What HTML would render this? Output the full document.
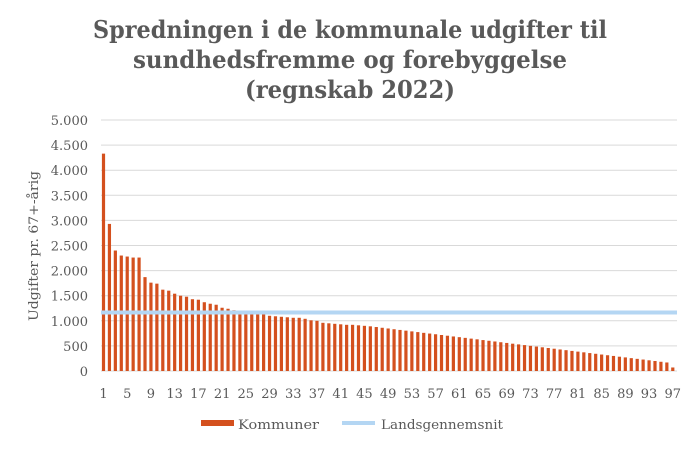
<!DOCTYPE html>
<html><head><meta charset="utf-8"><style>
body{margin:0;background:#fff;width:700px;height:450px;overflow:hidden}
</style></head><body>
<svg id="s" width="700" height="450" xmlns="http://www.w3.org/2000/svg" font-family="DejaVu Serif, Liberation Serif, serif">
<text x="350" y="38" text-anchor="middle" font-size="24" font-weight="bold" fill="#595959" textLength="514" lengthAdjust="spacingAndGlyphs">Spredningen i de kommunale udgifter til</text>
<text x="350" y="68" text-anchor="middle" font-size="24" font-weight="bold" fill="#595959" textLength="434" lengthAdjust="spacingAndGlyphs">sundhedsfremme og forebyggelse</text>
<text x="350" y="98" text-anchor="middle" font-size="24" font-weight="bold" fill="#595959" textLength="210" lengthAdjust="spacingAndGlyphs">(regnskab 2022)</text>
<text transform="translate(38,246) rotate(-90)" text-anchor="middle" font-size="13" fill="#595959" textLength="150" lengthAdjust="spacingAndGlyphs">Udgifter pr. 67+-årig</text>
<g id="g"></g>
<rect x="201" y="420" width="33" height="6" fill="#d4501e"/>
<text x="238" y="429" font-size="13" fill="#595959" textLength="81" lengthAdjust="spacingAndGlyphs">Kommuner</text>
<rect x="342" y="421" width="33" height="4" fill="#b4d6f3"/>
<text x="381" y="429" font-size="13" fill="#595959" textLength="122" lengthAdjust="spacingAndGlyphs">Landsgennemsnit</text>
</svg>
<script>
var v=[4330,2930,2400,2300,2280,2260,2260,1870,1760,1740,1620,1600,1540,1500,1480,1430,1420,1370,1340,1320,1260,1240,1210,1180,
1160,1150,1140,1130,1100,1090,1080,1070,1060,1060,1040,1010,1000,960,950,940,930,920,920,910,900];
for(var i=0;i<51;i++){v.push(Math.round(890-i*14.4));}
v.push(70);
var g=document.getElementById('g'),h='';
var y0=371,sc=50.2/1000;
for(var k=0;k<=10;k++){var y=y0-k*500*sc;
h+='<line x1="101" x2="677" y1="'+y+'" y2="'+y+'" stroke="#d9d9d9" stroke-width="1"/>';
var t=(k*500).toString();if(t.length>3)t=t.slice(0,-3)+'.'+t.slice(-3);
h+='<text x="88" y="'+(y+5)+'" text-anchor="end" font-size="13" fill="#595959">'+t+'</text>';}
var p=5.93;
for(var i=0;i<97;i++){var x=103.5+i*p;var bh=v[i]*sc;
h+='<rect x="'+(x-1.6)+'" y="'+(y0-bh)+'" width="3.2" height="'+bh+'" fill="#d4501e"/>';
if(i%4==0)h+='<text x="'+x+'" y="398" text-anchor="middle" font-size="13" fill="#595959">'+(i+1)+'</text>';}
var ya=y0-1165*sc;
h+='<line x1="101" x2="677" y1="'+ya+'" y2="'+ya+'" stroke="#b4d6f3" stroke-width="4"/>';
g.innerHTML=h;
</script>
</body></html>
